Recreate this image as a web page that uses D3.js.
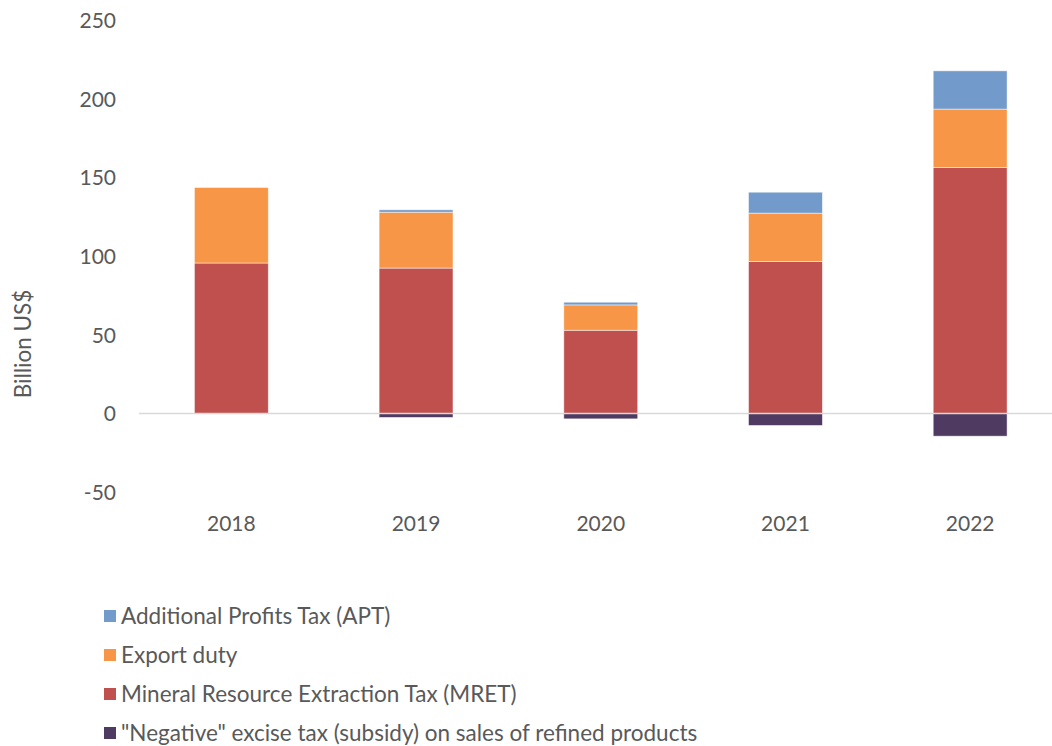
<!DOCTYPE html>
<html><head><meta charset="utf-8">
<script src="https://cdn.jsdelivr.net/npm/d3@7"></script>
<style>body{margin:0;background:#fff}svg{display:block}text{font-family:Lato,"Open Sans",sans-serif;fill:#595959}</style>
</head><body><svg id="c" width="1052" height="746"></svg>
<script>
const years = ["2018","2019","2020","2021","2022"];
const mret = [95.6, 92.4, 52.9, 96.6, 156.3];
const exportDuty = [48.0, 35.5, 16.1, 30.7, 37.1];
const apt = [0, 1.5, 1.7, 13.3, 24.3];
const negExcise = [0, -2.5, -3.4, -7.6, -14.4];
const yTicks = [-50, 0, 50, 100, 150, 200, 250];
const seriesNames = ["Mineral Resource Extraction Tax (MRET)", "Export duty", "Additional Profits Tax (APT)", "\"Negative\" excise tax (subsidy) on sales of refined products"];
const legendOrder = ["Additional Profits Tax (APT)", "Export duty", "Mineral Resource Extraction Tax (MRET)", "\"Negative\" excise tax (subsidy) on sales of refined products"];
const colors = {"Mineral Resource Extraction Tax (MRET)":"#c0504d","Export duty":"#f79646","Additional Profits Tax (APT)":"#729aca","\"Negative\" excise tax (subsidy) on sales of refined products":"#4f3a62"};

const rows = years.map((y,i)=>({year:y,
  [seriesNames[0]]:mret[i],[seriesNames[1]]:exportDuty[i],[seriesNames[2]]:apt[i],[seriesNames[3]]:negExcise[i]}));

const svg = d3.select("#c");
const x = d3.scaleBand().domain(years).range([139,1062.5]).paddingInner(0.6).paddingOuter(0.3);
const y = d3.scaleLinear().domain([-50,250]).range([492.2,20]);

const stack = d3.stack().keys(seriesNames).offset(d3.stackOffsetDiverging);
const stacked = stack(rows);

const g = svg.append("g");
stacked.forEach(s=>{
  g.selectAll(null).data(s.filter(d=>d[1]!==d[0])).enter().append("rect")
    .attr("x",d=>x(d.data.year))
    .attr("width",x.bandwidth())
    .attr("y",d=>y(Math.max(d[0],d[1])))
    .attr("height",d=>Math.abs(y(d[0])-y(d[1])))
    .attr("fill",colors[s.key])
    .attr("stroke","rgba(255,255,255,0.6)").attr("stroke-width",0.8);
});

// zero line
svg.append("line").attr("x1",139).attr("x2",1052).attr("y1",y(0)).attr("y2",y(0))
  .attr("stroke","#d9d9d9").attr("stroke-width",1.5);

// y axis
const yAxis = d3.axisLeft(y).tickValues(yTicks).tickSize(0).tickPadding(0).tickFormat(d=>String(d));
const ya = svg.append("g").attr("transform","translate(116,0)").call(yAxis);
ya.select(".domain").remove();
ya.selectAll("text").style("font-size","21px").attr("dy","0.35em").attr("fill","#595959");

// x axis
const xAxis = d3.axisBottom(x).tickSize(0).tickPadding(0);
const xa = svg.append("g").attr("transform","translate(0,516)").call(xAxis);
xa.select(".domain").remove();
xa.selectAll("text").style("font-size","21px").attr("dy","0.7em").attr("fill","#595959");

// y label
svg.append("text").attr("transform","translate(31,344) rotate(-90)").attr("text-anchor","middle")
  .style("font-size","22.5px").text("Billion US$");

// legend
const lg = svg.append("g");
legendOrder.forEach((k,i)=>{
  const cy = 616 + i*39;
  lg.append("rect").attr("x",104).attr("y",cy-6).attr("width",12).attr("height",12).attr("fill",colors[k]);
  lg.append("text").attr("x",121).attr("y",cy).attr("dy","0.35em").style("font-size","22.5px").text(k);
});
</script></body></html>
